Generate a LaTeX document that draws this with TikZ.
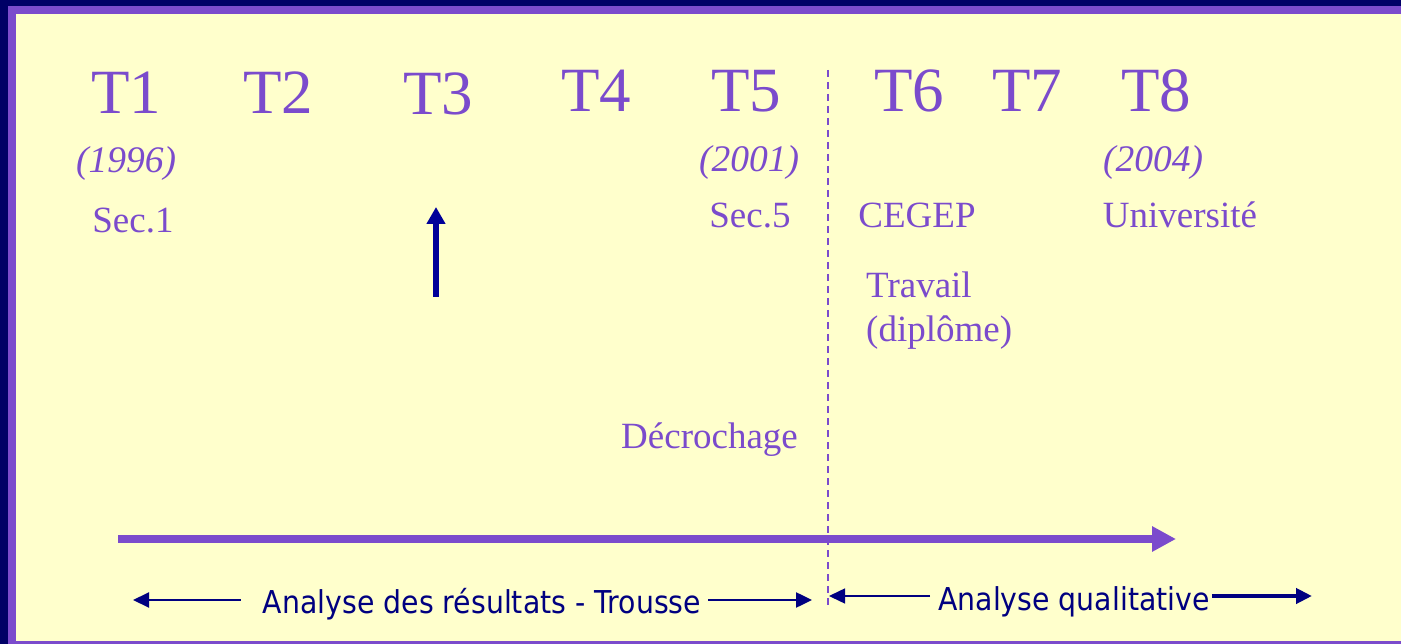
\documentclass[tikz,border=0pt]{standalone}
\usepackage{fontspec}
\setmainfont{Liberation Serif}
\newfontfamily\labelfont[FakeStretch=0.9]{DejaVu Sans}
\usetikzlibrary{arrows.meta,calc}

\definecolor{lilac}{HTML}{7B4BCC}
\definecolor{navy}{HTML}{000066}
\definecolor{cream}{HTML}{FFFFCC}
\definecolor{inkblue}{HTML}{000080}
\definecolor{pinblue}{HTML}{000099}

\tikzset{
 phase/.style={anchor=base, inner sep=0pt, text=lilac, font=\fontsize{63}{70}\selectfont},
 year/.style={anchor=base, inner sep=0pt, text=lilac, font=\fontsize{37.5}{42}\selectfont\itshape},
 school/.style={anchor=base, inner sep=0pt, text=lilac, font=\fontsize{37}{44}\selectfont},
 analyse/.style={anchor=base, inner sep=0pt, text=inkblue, font=\labelfont\fontsize{31.5}{36}\selectfont},
 thin arrow/.style={draw=inkblue, -{Triangle[width=15pt,length=16pt]}},
}

\begin{document}
\begin{tikzpicture}[x=1pt,y=-1pt]
 \useasboundingbox (0,0) rectangle (1401,644);
 \fill[navy] (0,0) rectangle (1401,644);
 \fill[lilac] (8,6) rectangle (1401,644);
 \fill[cream] (16,14) rectangle (1401,641);

 % time points
 \node[phase] (t1) at (126,114) {T1};
 \node[phase] (t2) at (278,114) {T2};
 \node[phase] (t3) at (438,115) {T3};
 \node[phase] (t4) at (596,112) {T4};
 \node[phase] (t5) at (746,112) {T5};
 \node[phase] (t6) at (909,112) {T6};
 \node[phase] (t7) at (1027,112) {T7};
 \node[phase] (t8) at (1156,112) {T8};

 \node[year] (y1) at (126,173) {(1996)};
 \node[year] (y5) at (749,172) {(2001)};
 \node[year] (y8) at (1153,172) {(2004)};

 \node[school] (sec1) at (133,233) {Sec.1};
 \node[school] (sec5) at (750,228) {Sec.5};
 \node[school] (cegep) at (917,228) {CEGEP};
 \node[school] (univ) at (1180,228) {Université};
 \node[school, anchor=base west] (trav) at (866,298) {Travail};
 \node[school, anchor=base west] (dipl) at (866,342) {(diplôme)};
 \node[school, anchor=base west] (decro) at (621,448) {Décrochage};

 % divider and axis
 \coordinate (divT) at (828,70);
 \coordinate (divB) at (828,608);
 \draw[lilac, line width=2pt, dash pattern=on 7pt off 5pt] (divT) -- (divB);

 \coordinate (axisS) at (118,539);
 \coordinate (axisE) at (1176,539);
 \draw[lilac, line width=8pt, -{Triangle[width=24pt,length=24pt]}] (axisS) -- (axisE);

 \coordinate (pinS) at (436,297);
 \coordinate (pinE) at (436,207);
 \draw[pinblue, line width=6pt, -{Triangle[width=18pt,length=17pt]}] (pinS) -- (pinE);

 % analysis ranges
 \node[analyse] (res) at (482,613) {Analyse des résultats - Trousse};
 \node[analyse] (qual) at (1074,610) {Analyse qualitative};

 \coordinate (resL) at (133,600);
 \coordinate (resR) at (812,600);
 \coordinate (qualL) at (829,596);
 \coordinate (qualR) at (1312,596);

 \draw[thin arrow, line width=2pt] ($(res.west |- resL)+(-22,0)$) -- (resL);
 \draw[thin arrow, line width=2.5pt] ($(res.east |- resR)+(7,0)$) -- (resR);
 \draw[thin arrow, line width=1.5pt] ($(qual.west |- qualL)+(-8,0)$) -- (qualL);
 \draw[thin arrow, line width=4.5pt] ($(qual.east |- qualR)+(2,0)$) -- (qualR);
\end{tikzpicture}
\end{document}
